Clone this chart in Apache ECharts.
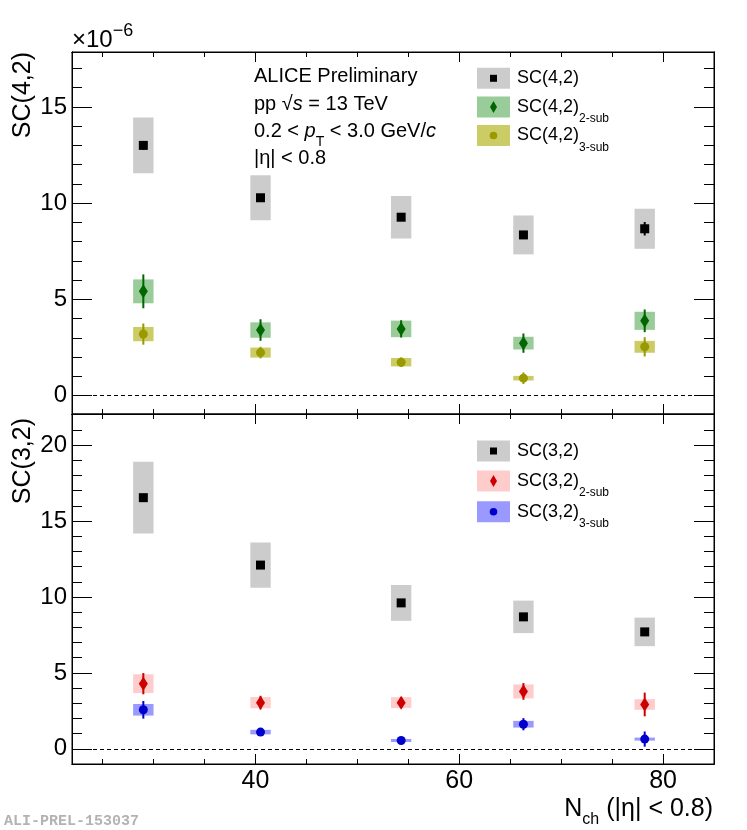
<!DOCTYPE html>
<html>
<head>
<meta charset="UTF-8">
<title>SC(m,n) vs Nch - ALICE Preliminary</title>
<script src="https://cdn.jsdelivr.net/npm/echarts@6/dist/echarts.min.js"></script>
<style>
  html, body { margin: 0; padding: 0; background: #fff; }
  #main { width: 747px; height: 830px; }
</style>
</head>
<body>
<div id="main"></div>
<script>
// N_ch bin centres
var nch = [29.0, 40.5, 54.3, 66.3, 78.2];

// top panel, values in units of 1e-6 : value, stat error, syst error
var sc42 = [13.0, 10.28, 9.27, 8.35, 8.67];
var sc42Stat = [0.23, 0.12, 0.12, 0.12, 0.35];
var sc42Sys = [1.45, 1.17, 1.10, 1.01, 1.04];

var sc42Sub2 = [5.42, 3.41, 3.47, 2.73, 3.89];
var sc42Sub2Stat = [0.88, 0.56, 0.45, 0.50, 0.59];
var sc42Sub2Sys = [0.62, 0.40, 0.43, 0.33, 0.47];

var sc42Sub3 = [3.20, 2.24, 1.74, 0.91, 2.54];
var sc42Sub3Stat = [0.55, 0.30, 0.25, 0.30, 0.50];
var sc42Sub3Sys = [0.37, 0.26, 0.22, 0.12, 0.31];

// bottom panel
var sc32 = [16.54, 12.10, 9.61, 8.69, 7.70];
var sc32Stat = [0.15, 0.15, 0.15, 0.15, 0.20];
var sc32Sys = [2.36, 1.49, 1.18, 1.07, 0.94];

var sc32Sub2 = [4.29, 3.04, 3.04, 3.78, 2.92];
var sc32Sub2Stat = [0.70, 0.45, 0.35, 0.55, 0.78];
var sc32Sub2Sys = [0.62, 0.37, 0.36, 0.46, 0.35];

var sc32Sub3 = [2.57, 1.10, 0.55, 1.62, 0.64];
var sc32Sub3Stat = [0.58, 0.15, 0.12, 0.40, 0.50];
var sc32Sub3Sys = [0.38, 0.15, 0.10, 0.22, 0.10];

// tick labels
var xMajor = [40, 60, 80];
var xMinor = [25, 30, 35, 45, 50, 55, 65, 70, 75, 85];
var yMajorTop = [0, 5, 10, 15];
var yMajorBot = [0, 5, 10, 15, 20];
var yMinorTop = [0, 1, 2, 3, 4, 6, 7, 8, 9, 11, 12, 13, 14, 16, 17];
var yMinorBot = [0, 1, 2, 3, 4, 6, 7, 8, 9, 11, 12, 13, 14, 16, 17, 18, 19, 21];

var FONT = '"Liberation Sans", Arial, sans-serif';
var boxHalf = 1.0; // half width of syst. box in N_ch

var myChart = echarts.init(document.getElementById('main'));

function xAx(g, pos, vals, len, labels) {
  return {
    type: 'value', gridIndex: g, position: pos, min: 22, max: 85,
    axisLine: { show: true, onZero: false, lineStyle: { color: '#000', width: 1 } },
    axisTick: { show: true, inside: true, length: len, customValues: vals, lineStyle: { color: '#000', width: 1 } },
    axisLabel: { show: labels, customValues: vals, margin: 5, fontSize: 25, color: '#000', fontFamily: FONT },
    splitLine: { show: false }
  };
}
function yAx(g, pos, range, vals, len, labels) {
  return {
    type: 'value', gridIndex: g, position: pos, min: range[0], max: range[1],
    axisLine: { show: true, lineStyle: { color: '#000', width: 1 } },
    axisTick: { show: true, inside: true, length: len, customValues: vals, lineStyle: { color: '#000', width: 1 } },
    axisLabel: { show: labels, customValues: vals, margin: 5, fontSize: 24, color: '#000', fontFamily: FONT },
    splitLine: { show: false }
  };
}

var ranges = [[-0.95, 17.85], [-1.0, 22.05]];
var xAxes = [], yAxes = [];
[0, 1].forEach(function (g) {
  xAxes.push(xAx(g, 'bottom', xMajor, 10, g === 1));
  xAxes.push(xAx(g, 'bottom', xMinor, 5, false));
  xAxes.push(xAx(g, 'top', xMajor, 10, false));
  xAxes.push(xAx(g, 'top', xMinor, 5, false));
  var maj = g === 0 ? yMajorTop : yMajorBot;
  var mnr = g === 0 ? yMinorTop : yMinorBot;
  yAxes.push(yAx(g, 'left', ranges[g], maj, 20, true));
  yAxes.push(yAx(g, 'left', ranges[g], mnr, 10, false));
  yAxes.push(yAx(g, 'right', ranges[g], maj, 20, false));
  yAxes.push(yAx(g, 'right', ranges[g], mnr, 10, false));
});

function boxItem(color) {
  return function (params, api) {
    var x = api.value(0), y = api.value(1), s = api.value(2);
    var a = api.coord([x - boxHalf, y + s]);
    var b = api.coord([x + boxHalf, y - s]);
    return { type: 'rect', shape: { x: a[0], y: a[1], width: b[0] - a[0], height: b[1] - a[1] }, style: { fill: color } };
  };
}
function barItem(color) {
  return function (params, api) {
    var x = api.value(0), y = api.value(1), e = api.value(2);
    var a = api.coord([x, y + e]);
    var b = api.coord([x, y - e]);
    return { type: 'line', shape: { x1: a[0], y1: a[1], x2: b[0], y2: b[1] }, style: { stroke: color, lineWidth: 2 } };
  };
}

var groups = [
  { g: 0, val: sc42, stat: sc42Stat, sys: sc42Sys, box: '#cccccc', col: '#000000', sym: 'rect', size: 9 },
  { g: 0, val: sc42Sub2, stat: sc42Sub2Stat, sys: sc42Sub2Sys, box: '#99cc99', col: '#006600', sym: 'diamond', size: [9, 14] },
  { g: 0, val: sc42Sub3, stat: sc42Sub3Stat, sys: sc42Sub3Sys, box: '#cccc66', col: '#999900', sym: 'circle', size: 9 },
  { g: 1, val: sc32, stat: sc32Stat, sys: sc32Sys, box: '#cccccc', col: '#000000', sym: 'rect', size: 9 },
  { g: 1, val: sc32Sub2, stat: sc32Sub2Stat, sys: sc32Sub2Sys, box: '#ffcccc', col: '#cc0000', sym: 'diamond', size: [9, 14] },
  { g: 1, val: sc32Sub3, stat: sc32Sub3Stat, sys: sc32Sub3Sys, box: '#9999ff', col: '#0000cc', sym: 'circle', size: 9 }
];

var series = [];
groups.forEach(function (d, k) {
  var xi = d.g * 4, yi = d.g * 4;
  series.push({
    type: 'custom', xAxisIndex: xi, yAxisIndex: yi, z: 2, silent: true,
    encode: { x: 0, y: 1 },
    data: nch.map(function (x, i) { return [x, d.val[i], d.sys[i]]; }),
    renderItem: boxItem(d.box)
  });
  series.push({
    type: 'custom', xAxisIndex: xi, yAxisIndex: yi, z: 3, silent: true,
    encode: { x: 0, y: 1 },
    data: nch.map(function (x, i) { return [x, d.val[i], d.stat[i]]; }),
    renderItem: barItem(d.col)
  });
  var sc = {
    type: 'scatter', xAxisIndex: xi, yAxisIndex: yi, z: 4, silent: true,
    symbol: d.sym, symbolSize: d.size,
    itemStyle: { color: d.col, opacity: 1 },
    data: nch.map(function (x, i) { return [x, d.val[i]]; })
  };
  if (k === 0 || k === 3) {
    sc.markLine = {
      silent: true, symbol: ['none', 'none'], label: { show: false }, z: 1,
      lineStyle: { color: '#000', width: 1, type: [4, 3] },
      data: [{ yAxis: 0 }]
    };
  }
  series.push(sc);
});

// legend and labels
var RM = { fontSize: 18, fontFamily: FONT, color: '#000', lineHeight: 36, verticalAlign: 'middle' };
var RS = { fontSize: 12, fontFamily: FONT, color: '#000', lineHeight: 12, verticalAlign: 'bottom' };

function legendRow(y, box, col, sym, txt) {
  var els = [
    { type: 'rect', shape: { x: 477, y: y - 10.5, width: 33, height: 21 }, style: { fill: box } }
  ];
  if (sym === 'rect') {
    els.push({ type: 'rect', shape: { x: 490, y: y - 3.5, width: 7, height: 7 }, style: { fill: col } });
  } else if (sym === 'diamond') {
    els.push({ type: 'polygon', shape: { points: [[493.5, y - 6], [497, y], [493.5, y + 6], [490, y]] }, style: { fill: col } });
  } else {
    els.push({ type: 'circle', shape: { cx: 493.5, cy: y, r: 3.8 }, style: { fill: col } });
  }
  els.push({
    type: 'text', x: 517, y: y,
    style: { text: txt, rich: { m: RM, s: RS }, align: 'left', verticalAlign: 'middle' }
  });
  return els;
}

var AN = { fontSize: 20, fontFamily: FONT, color: '#000', lineHeight: 36, verticalAlign: 'middle' };
var ANI = { fontSize: 20, fontFamily: FONT, fontStyle: 'italic', color: '#000', lineHeight: 36, verticalAlign: 'middle' };
var ANS = { fontSize: 14, fontFamily: FONT, color: '#000', lineHeight: 12, verticalAlign: 'bottom' };

function note(y, txt) {
  return { type: 'text', x: 254, y: y, style: { text: txt, rich: { n: AN, i: ANI, s: ANS }, align: 'left', verticalAlign: 'middle' } };
}

var graphics = [].concat(
  legendRow(78.3, '#cccccc', '#000000', 'rect', '{m|SC(4,2)}'),
  legendRow(107, '#99cc99', '#006600', 'diamond', '{m|SC(4,2)}{s|2-sub}'),
  legendRow(135.5, '#cccc66', '#999900', 'circle', '{m|SC(4,2)}{s|3-sub}'),
  legendRow(451, '#cccccc', '#000000', 'rect', '{m|SC(3,2)}'),
  legendRow(481, '#ffcccc', '#cc0000', 'diamond', '{m|SC(3,2)}{s|2-sub}'),
  legendRow(511.7, '#9999ff', '#0000cc', 'circle', '{m|SC(3,2)}{s|3-sub}'),
  [
    note(76, '{n|ALICE Preliminary}'),
    note(104, '{n|pp √}{i|s}{n| = 13 TeV}'),
    note(131, '{n|0.2 < }{i|p}{s|T}{n| < 3.0 GeV/}{i|c}'),
    note(158, '{n||η| < 0.8}'),
    {
      type: 'text', x: 72, y: 40,
      style: {
        text: '{n|×10}{p|−6}', align: 'left', verticalAlign: 'middle',
        rich: {
          n: { fontSize: 24, fontFamily: FONT, color: '#000', lineHeight: 36, verticalAlign: 'middle' },
          p: { fontSize: 18, fontFamily: FONT, color: '#000', lineHeight: 18, verticalAlign: 'top' }
        }
      }
    },
    {
      type: 'text', x: 23, y: 52, rotation: Math.PI / 2,
      style: { text: 'SC(4,2)', font: '25px ' + FONT, fill: '#000', align: 'right', verticalAlign: 'middle' }
    },
    {
      type: 'text', x: 23, y: 418, rotation: Math.PI / 2,
      style: { text: 'SC(3,2)', font: '25px ' + FONT, fill: '#000', align: 'right', verticalAlign: 'middle' }
    },
    {
      type: 'text', x: 713, y: 809,
      style: {
        text: '{n|N}{s|ch}{n| (|η| < 0.8)}', align: 'right', verticalAlign: 'middle',
        rich: {
          n: { fontSize: 25, fontFamily: FONT, color: '#000', lineHeight: 38, verticalAlign: 'middle' },
          s: { fontSize: 16, fontFamily: FONT, color: '#000', lineHeight: 16, verticalAlign: 'bottom' }
        }
      }
    },
    {
      type: 'text', x: 4, y: 821,
      style: { text: 'ALI-PREL-153037', font: 'bold 15px "Liberation Mono", "DejaVu Sans Mono", monospace', fill: '#b3b3b3', align: 'left', verticalAlign: 'middle' }
    }
  ]
);

var option = {
  animation: false,
  backgroundColor: '#fff',
  grid: [
    { left: 72, top: 52, width: 642, height: 362, show: true, borderColor: '#000', borderWidth: 1, backgroundColor: 'transparent' },
    { left: 72, top: 414, width: 642, height: 350, show: true, borderColor: '#000', borderWidth: 1, backgroundColor: 'transparent' }
  ],
  xAxis: xAxes,
  yAxis: yAxes,
  series: series,
  graphic: { elements: graphics }
};

myChart.setOption(option);
</script>
</body>
</html>
